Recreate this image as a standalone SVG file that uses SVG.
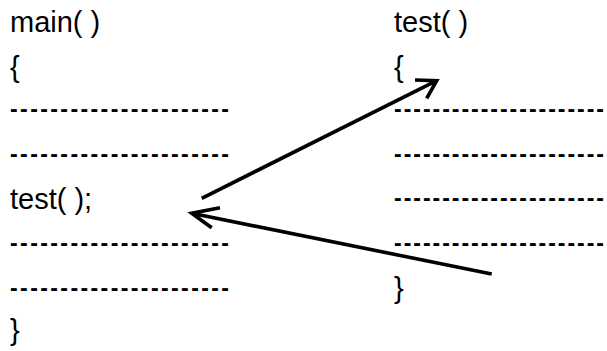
<svg xmlns="http://www.w3.org/2000/svg" width="607" height="351" viewBox="0 0 607 351">
<style>
text{font-family:"Liberation Sans",Arial,sans-serif;font-size:29px;fill:#000}
.d{font-weight:bold;font-size:23px}
.a{fill:none;stroke:#000;stroke-width:3.6;stroke-linecap:butt;stroke-linejoin:miter}
</style>
<rect width="607" height="351" fill="#fff"/>
<g id="main">
<text x="10" y="32">main( )</text>
<text x="10" y="77">{</text>
<text class="d" x="10" y="117" textLength="219" lengthAdjust="spacing">----------------------</text>
<text class="d" x="10" y="162" textLength="219" lengthAdjust="spacing">----------------------</text>
<text x="10" y="209">test( );</text>
<text class="d" x="10" y="251" textLength="219" lengthAdjust="spacing">----------------------</text>
<text class="d" x="10" y="296" textLength="219" lengthAdjust="spacing">----------------------</text>
<text x="10" y="340">}</text>
</g>
<g id="test">
<text x="394" y="32">test( )</text>
<text x="394" y="77">{</text>
<text class="d" x="394" y="117" textLength="210" lengthAdjust="spacing">----------------------</text>
<text class="d" x="394" y="162" textLength="210" lengthAdjust="spacing">----------------------</text>
<text class="d" x="394" y="206" textLength="210" lengthAdjust="spacing">----------------------</text>
<text class="d" x="394" y="251" textLength="210" lengthAdjust="spacing">----------------------</text>
<text x="394" y="298">}</text>
</g>
<g id="connectors">
<path class="a" d="M201.7,198.3 L436.7,80.7 M415,80 L436.7,80.7 L426.7,98.3"/>
<path class="a" d="M491.7,274 L191.7,213.3 M220,207.7 L191.7,213.3 L211.7,227.7"/>
</g>
</svg>
